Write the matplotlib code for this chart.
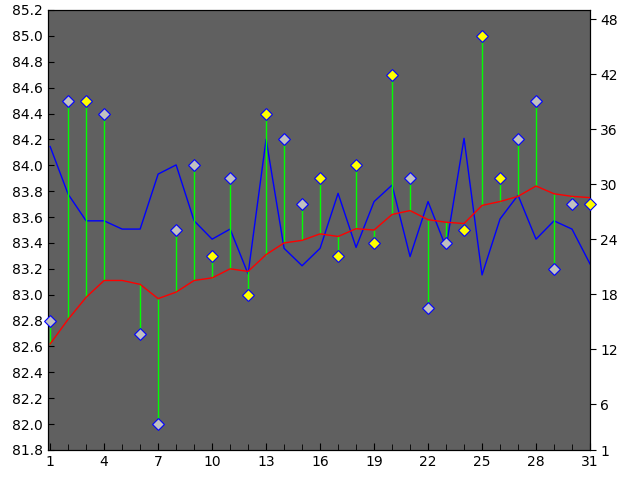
import numpy as np
import matplotlib
matplotlib.use("Agg")
import matplotlib.pyplot as plt

days = list(range(1, 32))
values = [82.8, 84.5, 84.5, 84.4, np.nan, 82.7, 82.0, 83.5, 84.0, 83.3, 83.9, 83.0, 84.4, 84.2, 83.7, 83.9,
          83.3, 84.0, 83.4, 84.7, 83.9, 82.9, 83.4, 83.5, 85.0, 83.9, 84.2, 84.5, 83.2, 83.7, 83.7]
highlight = [0, 0, 1, 0, 0, 0, 0, 0, 0, 1, 0, 1, 1, 0, 0, 1,
             1, 1, 1, 1, 0, 0, 0, 1, 1, 1, 0, 0, 0, 0, 1]
moving_avg = [82.62, 82.81, 82.98, 83.11, 83.11, 83.08, 82.97, 83.02, 83.11, 83.13, 83.20, 83.18, 83.31, 83.40,
              83.42, 83.47, 83.45, 83.51, 83.50, 83.62, 83.65, 83.58, 83.56, 83.55, 83.69, 83.72, 83.76, 83.84,
              83.78, 83.76, 83.75]
secondary = [34.1, 28.9, 26.0, 26.0, 25.1, 25.1, 31.1, 32.1, 26.0, 24.0, 25.1, 20.2, 34.9, 23.0, 21.1, 23.0,
             29.0, 23.1, 28.1, 29.9, 22.1, 28.1, 23.1, 35.0, 20.1, 26.2, 28.8, 24.0, 26.0, 25.1, 21.3]

fig = plt.figure(figsize=(6.4, 4.8), dpi=100)
ax = fig.add_axes([48/640, 30/480, 542/640, 440/480])
ax.set_facecolor("#606060")
ax.set_xlim(0.88, 31)
ax.set_ylim(81.8, 85.2)
ax2 = ax.twinx()
ax2.set_ylim(1, 49)

ax2.plot(days, secondary, color="#0000ff", lw=1, zorder=1)
ax.set_zorder(ax2.get_zorder() + 1)
ax.patch.set_visible(False)
ax2.patch.set_visible(True)
ax2.patch.set_facecolor("#606060")
ax.set_facecolor("#606060")

ax.vlines(days, moving_avg, values, color="#00ff00", lw=1, zorder=2)
ax.plot(days, moving_avg, color="#ff0000", lw=1, zorder=3)
v = np.array(values); h = np.array(highlight, bool); d = np.array(days)
ax.scatter(d[~h], v[~h], marker="D", s=36, facecolor="#c0c0c0", edgecolor="#0000ff", lw=0.8, zorder=4, clip_on=False)
ax.scatter(d[h], v[h], marker="D", s=36, facecolor="#ffff00", edgecolor="#0000ff", lw=0.8, zorder=4, clip_on=False)

ax.set_xticks(list(range(1, 32, 3)))
ax.set_xticks(days, minor=True)
ax.set_yticks(np.round(np.arange(81.8, 85.21, 0.2), 1))
ax.yaxis.set_major_formatter(matplotlib.ticker.FormatStrFormatter("%.1f"))
ax2.set_yticks([1, 6, 12, 18, 24, 30, 36, 42, 48])
ax.tick_params(axis="x", direction="in", labelsize=10, length=5)
ax.tick_params(axis="x", which="minor", direction="in", length=4)
ax.tick_params(axis="y", direction="in", labelsize=10, length=4)
ax2.tick_params(axis="y", direction="out", labelsize=10, length=4)
for a in (ax, ax2):
    for s in a.spines.values():
        s.set_color("black")
fig.savefig("out.png", dpi=100)
